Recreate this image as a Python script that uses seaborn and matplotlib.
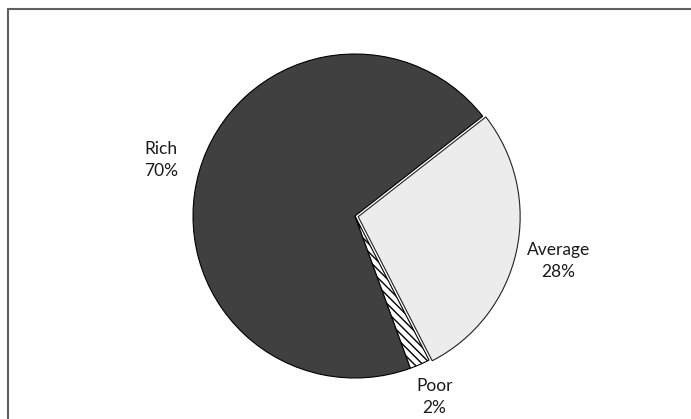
import numpy as np
import matplotlib
matplotlib.use("Agg")
import matplotlib.pyplot as plt
from matplotlib.lines import Line2D
import seaborn as sns

categories = ["Rich", "Average", "Poor"]
shares = [70, 28, 2]
label_texts = ["Rich\n70%", "Average\n28%", "Poor\n2%"]

sns.set_style("white")
plt.rcParams["font.family"] = ["Lato", "DejaVu Sans"]
plt.rcParams["hatch.linewidth"] = 1.0

fig = plt.figure(figsize=(6.91, 4.19), dpi=100)
ax = fig.add_axes([0, 0, 1, 1])

colors = ["#404040", "#ececec", "#ffffff"]
wedges, texts = ax.pie(
    shares,
    labels=label_texts,
    colors=colors,
    startangle=290,
    counterclock=False,
    explode=[0, 0.02, 0],
    radius=1.0,
    wedgeprops=dict(edgecolor="black", linewidth=0.8),
    textprops=dict(fontsize=12.5, color="#1a1a1a"),
)
wedges[2].set_hatch("\\\\\\\\")
wedges[1].set_edgecolor("#222222")

dists = [1.245, 1.285, 1.22]
for w, t, d in zip(wedges, texts, dists):
    ang = np.deg2rad((w.theta1 + w.theta2) / 2)
    t.set_position((d * np.cos(ang), d * np.sin(ang)))
    t.set_ha("center")
    t.set_va("center")
    t.set_multialignment("center")
    t.set_linespacing(1.45)

R = 162.0
cx, cy = 355.0, 216.0
W, H = 691.0, 419.0
ax.set_xlim(-cx / R, (W - cx) / R)
ax.set_ylim(-(H - cy) / R, cy / R)
ax.set_aspect("equal")
ax.axis("off")

fig.add_artist(Line2D([7.5 / W, 7.5 / W], [0, 1 - 9.5 / H], color="#606060", lw=1.5, transform=fig.transFigure))
fig.add_artist(Line2D([7.5 / W, 1], [1 - 9.5 / H, 1 - 9.5 / H], color="#606060", lw=1.5, transform=fig.transFigure))

fig.savefig("out.png", dpi=100, facecolor="white")
